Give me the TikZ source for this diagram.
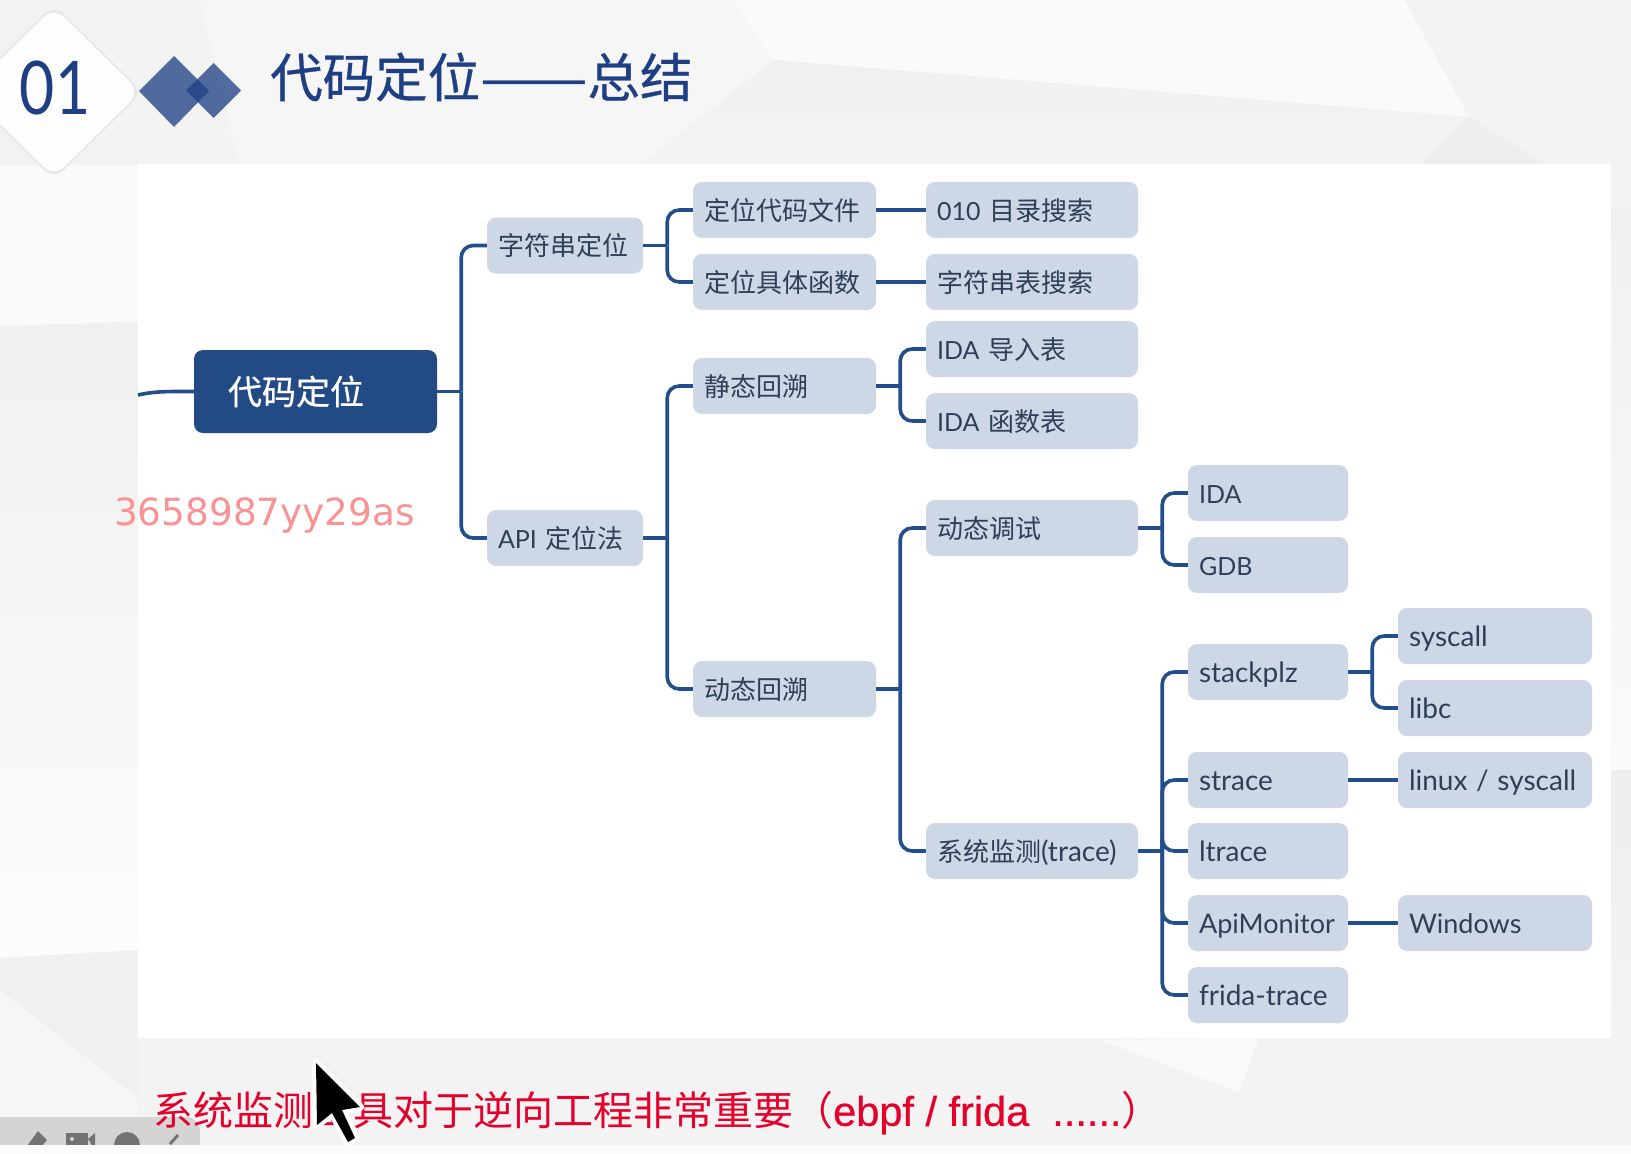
\documentclass[tikz,border=0pt]{standalone}
\usepackage{fontspec}
\usepackage{graphicx}
\usetikzlibrary{calc}
\setmainfont{Noto Sans CJK SC}
\newfontfamily\heavy[FakeBold=0.6]{Noto Sans CJK SC}
\newfontfamily\lat{Lato}
\newfontfamily\wm{DejaVu Sans}
\newfontfamily\ar[FakeBold=0.6]{Liberation Sans}
\definecolor{bgbase}{HTML}{F3F3F4}
\definecolor{facet}{HTML}{FAFAFA}
\definecolor{facetm}{HTML}{F6F6F6}
\definecolor{facetd}{HTML}{EEEEEE}
\definecolor{facetu}{HTML}{F0F0F0}
\definecolor{boxfill}{HTML}{CDD7E5}
\definecolor{boxtext}{HTML}{2F3F58}
\definecolor{rootfill}{HTML}{224A85}
\definecolor{conn}{HTML}{234E8C}
\definecolor{titleblue}{HTML}{1E3F84}
\definecolor{redtext}{HTML}{E4002B}
\definecolor{wmark}{HTML}{F99292}
\tikzset{
  box/.style={fill=boxfill,text=boxtext,rounded corners=9pt,minimum height=56pt,
    minimum width=#1pt,text width=#1pt-22pt,inner xsep=11pt,inner ysep=0pt,align=left,
    font=\fontsize{26}{26}\selectfont,text height=23.4pt,text depth=2.6pt},
  rootbox/.style={fill=rootfill,text=white,rounded corners=9pt,minimum height=83pt,
    minimum width=243pt,text width=243pt-68pt,inner xsep=34pt,inner ysep=0pt,align=left,
    font=\heavy\fontsize{34}{34}\selectfont},
  link/.style={draw=conn,line width=3.6pt},
  elbow/.style={link,rounded corners=12pt},
}
\newcommand{\lt}[1]{{\lat\fontsize{28}{28}\selectfont #1}}
\newcommand{\ltc}[1]{{\lat\fontsize{25}{25}\selectfont #1}}
\newcommand{\branch}[2]{%
  \draw[link] (#1.east) -- ++(24,0);
  \foreach \kid in {#2}{\draw[elbow] ($(#1.east)+(24,0)$) |- (\kid.west);}
}
\begin{document}
\begin{tikzpicture}[x=1pt,y=-1pt]
\useasboundingbox (0,0) rectangle (1631,1154);
% background
\fill[bgbase] (0,0) rectangle (1631,1154);
\fill[facetm] (200,0) -- (733,0) -- (774,60) -- (640,165) -- (240,165) -- cycle;
\fill[facet] (733,0) -- (1404,0) -- (1469,117) -- (774,60) -- cycle;
\shade[top color=facetu,bottom color=bgbase] (774,60) -- (1469,117) -- (1420,165) -- (640,165) -- cycle;
\fill[facetd] (1469,117) -- (1548,165) -- (1420,165) -- cycle;
\fill[facet] (0,165) -- (138,165) -- (138,322) -- (0,326) -- cycle;
\shade[top color=facetu,bottom color=facet!60!white] (0,326) -- (138,322) -- (138,950) -- (0,958) -- cycle;
\fill[facetd!50!bgbase] (0,958) -- (138,950) -- (138,1118) -- (0,1118) -- cycle;
\fill[facetm] (0,990) -- (138,1098) -- (138,1118) -- (0,1118) -- cycle;
\fill[facet] (1100,1040) -- (1239,1092) -- (1259,1038) -- cycle;
\shade[top color=facetu,bottom color=facet] (1611,208) rectangle (1631,770);
\shade[top color=facetd,bottom color=bgbase] (1611,770) rectangle (1631,1038);
\fill[white!70!bgbase] (0,1145) rectangle (1631,1154);
% badge
\fill[black!9,rounded corners=14pt] (54,4) -- (143,92) -- (54,180) -- (-35,92) -- cycle;
\fill[white!85!bgbase,rounded corners=14pt] (54,7) -- (140,92) -- (54,177) -- (-32,92) -- cycle;
\node[text=titleblue,font=\lat\fontsize{74}{74}\selectfont,xscale=.82] (num) at (55,88) {01};
% diamonds
\fill[titleblue,opacity=.76] (174,56) -- (209,91) -- (174,127) -- (139,91) -- cycle;
\fill[titleblue,opacity=.76] (213.5,63) -- (241,90.5) -- (213.5,118) -- (186,90.5) -- cycle;
% title
\node[anchor=west,inner sep=0pt,text=titleblue,font=\heavy\fontsize{52.5}{52.5}\selectfont] (title) at (270,77) {代码定位\scalebox{1.22}[1]{——}总结};
% panel
\fill[white] (138,164) rectangle (1611,1038);
% nodes
\node[rootbox] (root) at (315.5,391.5) {代码定位};
\node[box=156] (str) at (565,245.5) {字符串定位};
\node[box=156] (api) at (565,538) {\ltc{API} 定位法};
\node[box=183] (f1) at (784.5,210) {定位代码文件};
\node[box=183] (f2) at (784.5,282) {定位具体函数};
\node[box=183] (st) at (784.5,386) {静态回溯};
\node[box=183] (dy) at (784.5,689) {动态回溯};
\node[box=212] (g1) at (1032,210) {\ltc{010} 目录搜索};
\node[box=212] (g2) at (1032,282) {字符串表搜索};
\node[box=212] (g3) at (1032,349) {\ltc{IDA} 导入表};
\node[box=212] (g4) at (1032,421) {\ltc{IDA} 函数表};
\node[box=212] (dbg) at (1032,528) {动态调试};
\node[box=212] (trc) at (1032,851) {系统监测\lt{(trace)}};
\node[box=160] (ida) at (1268,493) {\ltc{IDA}};
\node[box=160] (gdb) at (1268,565) {\ltc{GDB}};
\node[box=160] (spz) at (1268,672) {\lt{stackplz}};
\node[box=160] (stra) at (1268,780) {\lt{strace}};
\node[box=160] (ltr) at (1268,851) {\lt{ltrace}};
\node[box=160] (apim) at (1268,923) {{\lat\fontsize{27}{27}\selectfont ApiMonitor}};
\node[box=160] (frt) at (1268,995) {\lt{frida-trace}};
\node[box=194] (sys) at (1495,636) {\lt{syscall}};
\node[box=194] (libc) at (1495,708) {\lt{libc}};
\node[box=194] (lin) at (1495,780) {\lt{linux / syscall}};
\node[box=194] (win) at (1495,923) {{\lat\fontsize{27}{27}\selectfont Windows}};
% connectors
\coordinate (lead) at (138,395);
\draw[link] (lead) .. controls (155,391) and (170,391.5) .. (root.west);
\branch{root}{str,api}
\branch{str}{f1,f2}
\branch{api}{st,dy}
\branch{st}{g3,g4}
\branch{dy}{dbg,trc}
\branch{dbg}{ida,gdb}
\branch{trc}{spz,stra,ltr,apim,frt}
\branch{spz}{sys,libc}
\draw[link] (f1) -- (g1);
\draw[link] (f2) -- (g2);
\draw[link] (stra) -- (lin);
\draw[link] (apim) -- (win);
% watermark
\node[anchor=west,inner sep=0pt,text=wmark,font=\wm\fontsize{37.4}{37.4}\selectfont] (wmk) at (114,516) {3658987yy29as};
% toolbar
\begin{scope}
\clip (0,1100) rectangle (1631,1144.5);
\fill[black!17,rounded corners=14pt] (-20,1117) -- (200,1117) -- (200,1170) -- (-20,1170) -- cycle;
\fill[black!55] (27,1146) -- (38,1131) -- (47,1140) -- (42,1146) -- cycle;
\fill[black!55] (66,1133) rectangle (88,1150);
\fill[black!55] (88,1139) -- (95,1133) -- (95,1150) -- cycle;
\fill[black!17] (72,1139) circle (2);
\fill[black!55] (127,1145) circle (13);
\draw[black!55,line width=3pt] (178,1135) -- (170,1144);
\end{scope}
% note
\node[anchor=west,inner sep=0pt,text=redtext,font=\fontsize{40}{40}\selectfont] (note) at (153,1113) {系统监测工具对于逆向工程非常重要（{\ar\fontsize{41.5}{41.5}\selectfont ebpf / frida\ \ ......}）};
% cursor
\fill[white,draw=white,line width=8pt,line join=round]
  (316,1063) -- (360,1107) -- (342,1110) -- (355,1138) -- (348,1142) -- (332,1113) -- (317,1125) -- cycle;
\fill[black,line join=round]
  (316,1063) -- (360,1107) -- (342,1110) -- (355,1138) -- (348,1142) -- (332,1113) -- (317,1125) -- cycle;
\end{tikzpicture}
\end{document}
